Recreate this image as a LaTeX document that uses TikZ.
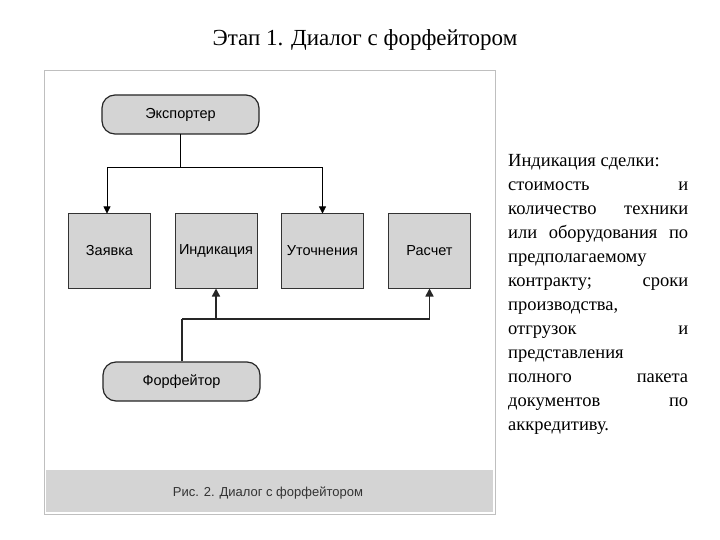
\documentclass[tikz,border=0pt]{standalone}
\usepackage{fontspec}
\setmainfont{Liberation Serif}
\newfontfamily\sansf{Liberation Sans}
\usetikzlibrary{arrows.meta}
\begin{document}
\begin{tikzpicture}[x=1pt,y=-1pt,
  blk/.style={draw=black!80,line width=1pt,fill=black!17,minimum width=82pt,minimum height=74pt,font=\sansf\fontsize{14.5}{16}\selectfont,inner sep=0pt},
  actor/.style={draw=black!85,line width=1.2pt,fill=black!17,rounded corners=13pt,minimum width=157pt,minimum height=39pt,font=\sansf\fontsize{14.5}{16}\selectfont},
  conn/.style={line width=0.8pt,-{Triangle[length=7pt,width=7pt]}},
  conn2/.style={line width=1.6pt,black!85,-{Triangle[length=8pt,width=8pt]}}]
\useasboundingbox (0,0) rectangle (720,540);
\node[font=\fontsize{23}{26}\selectfont] (title) at (365,40) {Этап 1. Диалог с форфейтором};
\draw[draw=black!25,line width=1pt,fill=white] (44,71) rectangle (495,514);
\fill[black!17] (46,470) rectangle (493,512);
\node[font=\sansf\fontsize{13}{15}\selectfont,text=black!80] (cap) at (268,493) {Рис. 2. Диалог с форфейтором};
\node[actor] (exp) at (180.5,114.5) {Экспортер};
\node[actor] (forf) at (181.5,381.5) {Форфейтор};
\node[blk] (z) at (109.5,251) {Заявка};
\node[blk] (i) at (216,251) {\raisebox{3pt}{Индикация}};
\node[blk] (u) at (322.5,251) {Уточнения};
\node[blk] (r) at (429.5,251) {Расчет};
\coordinate (j0) at (180,134);
\coordinate (j1) at (180,167);
\coordinate (j2) at (182,319);
\draw[line width=0.8pt] (j0) -- (j1);
\draw[conn] (j1) -| (z.north -| 107,0);
\draw[conn] (j1) -| (u.north);
\draw[line width=1.6pt,black!85] (forf.north -| j2) -- (j2);
\draw[conn2] (j2) -| (i.south);
\draw[conn2] (j2) -| (r.south);
\node[anchor=north west,text width=180pt,align=justify,inner sep=0pt,font=\fontsize{18.5}{24}\selectfont] (txt) at (508,154)
{Индикация сделки:\\ стоимость и\linebreak количество техники\linebreak или оборудования по\linebreak предполагаемому\hfill\linebreak контракту; сроки\linebreak производства,\hfill\linebreak отгрузок и\linebreak представления\hfill\linebreak полного пакета\linebreak документов по\linebreak аккредитиву.};
\end{tikzpicture}
\end{document}
